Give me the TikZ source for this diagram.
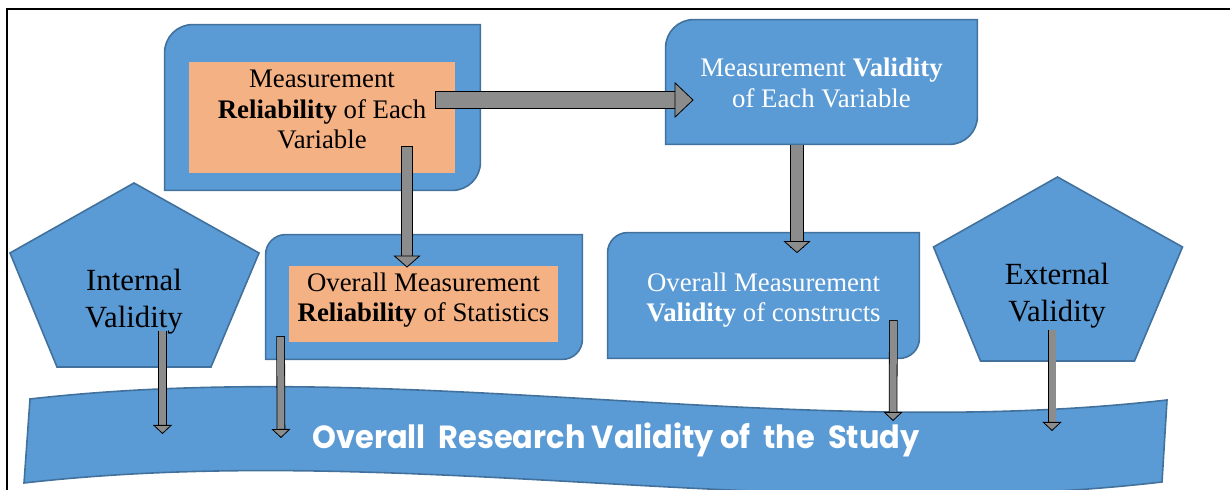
\documentclass[tikz,border=0pt]{standalone}
\usepackage{fontspec}
\setmainfont{Liberation Serif}
\newfontfamily\bannerfont[FakeStretch=0.95]{Poppins}
\usetikzlibrary{arrows.meta,backgrounds,calc}

\definecolor{boxblue}{HTML}{5B9BD5}
\definecolor{boxline}{HTML}{41719C}
\definecolor{boxorange}{HTML}{F4B183}
\definecolor{arrgray}{HTML}{8C8C8C}

\tikzset{
  blueshape/.style={fill=boxblue, draw=boxline, line width=0.8pt},
  outer/.style 2 args={inner sep=0pt, minimum width=#1, minimum height=#2},
  inner/.style 2 args={outer={#1}{#2}, fill=boxorange},
  boxtext/.style={inner sep=0pt, align=center, font=\fontsize{13.4}{15.3}\selectfont},
  pentext/.style={inner sep=0pt, align=center, font=\fontsize{15.4}{18.5}\selectfont},
  blockarrow/.style n args={3}{draw=black, line width=0.4pt, line cap=rect, double=arrgray, double distance=#1,
    -{Triangle[width=#2, length=#3, color=black, fill=arrgray, line width=0.4pt]}}
}

% box with the top left and bottom right corners rounded
\newcommand\diagbox[2]{%
  \draw[blueshape] (#1.south west) -- ([yshift=-#2]#1.north west)
    arc[start angle=180, end angle=90, radius=#2] -- (#1.north east)
    -- ([yshift=#2]#1.south east) arc[start angle=0, end angle=-90, radius=#2] -- cycle;}

% pentagon around a centre point
\newcommand\pentagon[1]{%
  \draw[blueshape] ($(#1)+(0,92)$) -- ($(#1)+(125,22)$) -- ($(#1)+(77,-92)$)
    -- ($(#1)+(-77,-92)$) -- ($(#1)+(-124,22)$) -- cycle;}

\begin{document}
\begin{tikzpicture}[x=0.5pt,y=0.5pt]
\useasboundingbox (0,0) rectangle (1230,490);
\draw[line width=1.3pt] (7,0) -- (7,481) -- (1230,481);

% reliability side
\node[outer={157.5pt}{82.5pt}] (measrelbox) at (322.5,382.5) {};
\node[inner={133pt}{55.5pt}] (measrel) at (322,372.5) {};
\node[boxtext] (measreltext) at (322,380.5) {Measurement\\\textbf{Reliability} of Each\\Variable};
\node[outer={158pt}{62pt}] (overrelbox) at (424,193) {};
\node[inner={134.5pt}{38pt}] (overrel) at (423.5,186) {};
\node[boxtext] (overreltext) at (423.5,190) {Overall Measurement\\\textbf{Reliability} of Statistics};

% validity side
\node[outer={155.5pt}{62pt}] (measval) at (821.5,408) {};
\node[boxtext, text=white] (measvaltext) at (821.5,407) {Measurement \textbf{Validity}\\of Each Variable};
\node[outer={155.5pt}{62.5pt}] (overval) at (763.5,194.5) {};
\node[boxtext, text=white] (overvaltext) at (763.5,190) {Overall Measurement\\\textbf{Validity} of constructs};

\coordinate (intc) at (134,215);
\coordinate (extc) at (1057.5,221);
\node[pentext] (intval) at (134,188.5) {Internal\\Validity};
\node[pentext] (extval) at (1057,194) {External\\Validity};

\node[font=\bannerfont\fontsize{16}{18}\selectfont\bfseries, text=white, inner sep=0pt] (study) at (616,50)
  {Overall\ \ Research Validity of\ \ the\ \ Study};

\coordinate (in1) at (162.5,56);
\coordinate (in2) at (281,52);
\coordinate (in3) at (893,69);
\coordinate (in4) at (1052,59);

\begin{scope}[on background layer]
  \diagbox{measrelbox}{14pt}
  \diagbox{overrelbox}{10pt}
  \diagbox{measval}{14pt}
  \diagbox{overval}{10pt}
  \pentagon{intc}
  \pentagon{extc}
  \draw[blueshape] (30,91) .. controls (410,134) and (790,47) .. (1167,90)
    -- (1162,8) .. controls (784,-36) and (404,50) .. (24,7) -- cycle;
\end{scope}

\draw[blockarrow={8.2pt}{18pt}{9.5pt}] ($(measrel.east)+(-11,17.5)$) -- ($(measval.west)+(28,-18)$);
\draw[blockarrow={5.2pt}{13.5pt}{6pt}] ($(measrel.south)+(85,21)$) -- ($(overrel.north)+(-16.5,-2)$);
\draw[blockarrow={6pt}{13.5pt}{6pt}] ($(measval.south)+(-24.5,-7)$) -- ($(overval.north)+(33.5,-20.5)$);

\draw[blockarrow={3.5pt}{9.5pt}{4.5pt}] ($(intc)+(28.5,-60)$) -- (in1);
\draw[blockarrow={3.5pt}{9.5pt}{4.5pt}] ($(overrelbox.south west)+(15,19)$) -- (in2);
\draw[blockarrow={3.5pt}{9.5pt}{4.5pt}] ($(overval.south east)+(-26,34)$) -- (in3);
\draw[blockarrow={3.5pt}{9.5pt}{4.5pt}] ($(extc)+(-5.5,-65)$) -- (in4);
\end{tikzpicture}
\end{document}
